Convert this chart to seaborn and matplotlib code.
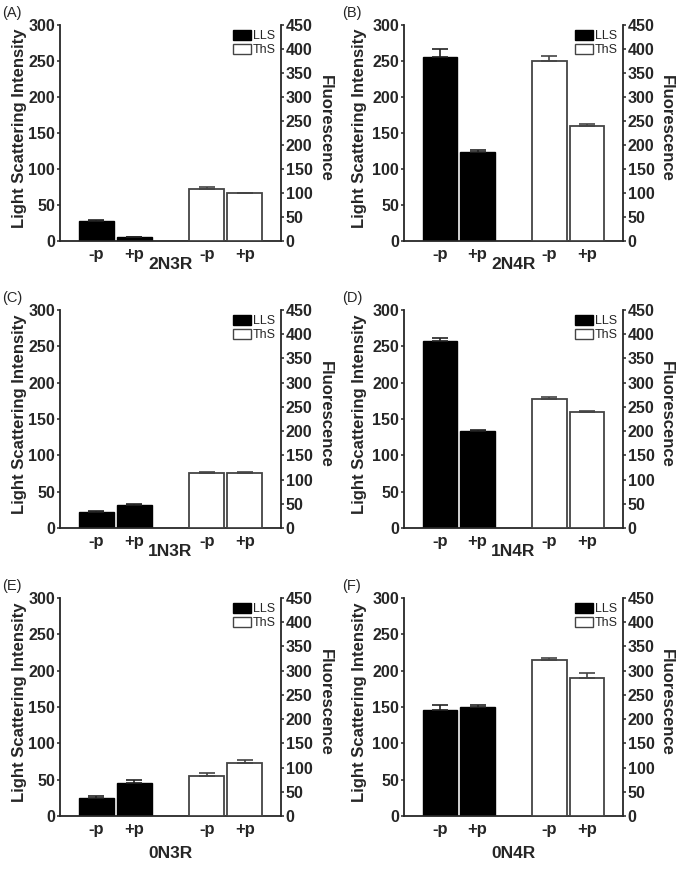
import matplotlib
matplotlib.use("Agg")
import matplotlib.pyplot as plt
from matplotlib.patches import Patch
import seaborn as sns

# panel data: LLS on left axis, ThS on right axis (mean, upper error)
panels = ["(A)", "(B)", "(C)", "(D)", "(E)", "(F)"]
isoforms = ["2N3R", "2N4R", "1N3R", "1N4R", "0N3R", "0N4R"]
conditions = ["-p", "+p"]

lls_mean = [[28, 5], [256, 124], [22, 32], [258, 134], [25, 46], [146, 150]]
lls_err = [[1.5, 0.5], [10, 2], [2, 0.5], [4, 1], [3, 3], [7, 3]]
ths_mean = [[108, 100], [375, 240], [113, 113], [266, 240], [83, 110], [321, 285]]
ths_err = [[4, 1], [10, 4], [3, 2], [5, 1], [5, 6], [6, 10]]

lls_pos = [0, 1]
ths_pos = [2.9, 3.9]

sns.set_style("ticks")
plt.rcParams["font.family"] = ["Liberation Sans", "DejaVu Sans"]
plt.rcParams["font.weight"] = "bold"
plt.rcParams["axes.labelweight"] = "bold"

fig = plt.figure(figsize=(6.85, 8.69), dpi=100)
W, H = 685, 869
cols = [(60, 221), (404, 219)]
rows = [(25, 241), (310, 528), (598, 816)]
xlab_y = [-0.11, -0.11, -0.11, -0.11, -0.17, -0.17]
tick_kw = dict(width=1.1, length=2.5, labelsize=11.5, pad=1)

for i in range(6):
    r, c = divmod(i, 2)
    x0, w = cols[c]
    top, bot = rows[r]
    ax = fig.add_axes([x0 / W, (H - bot) / H, w / W, (bot - top) / H])
    ax2 = ax.twinx()

    sns.barplot(x=lls_pos, y=lls_mean[i], native_scale=True, width=0.92,
                color="black", saturation=1, edgecolor="black", linewidth=1,
                errorbar=None, ax=ax)
    sns.barplot(x=ths_pos, y=ths_mean[i], native_scale=True, width=0.92,
                color="white", saturation=1, edgecolor="#444444", linewidth=1.3,
                errorbar=None, ax=ax2)
    ax.errorbar(lls_pos, lls_mean[i], yerr=[[0, 0], lls_err[i]], fmt="none",
                ecolor="#222222", elinewidth=1.2, capsize=6, capthick=1.2)
    ax2.errorbar(ths_pos, ths_mean[i], yerr=[[0, 0], ths_err[i]], fmt="none",
                 ecolor="#444444", elinewidth=1.2, capsize=6, capthick=1.2)

    ax.set_ylim(0, 300)
    ax.set_yticks(range(0, 301, 50))
    ax2.set_ylim(0, 450)
    ax2.set_yticks(range(0, 451, 50))
    ax.set_xlim(-0.95, 4.85)
    ax.set_xticks(lls_pos + ths_pos)
    ax.set_xticklabels(conditions * 2)
    ax.tick_params(axis="x", length=0, labelsize=12, pad=4)
    ax.tick_params(axis="y", **tick_kw)
    ax2.tick_params(axis="y", **tick_kw)

    ax.set_xlabel(isoforms[i], fontsize=12.5)
    ax.xaxis.set_label_coords(0.5, xlab_y[i], transform=ax.transAxes)
    ax.xaxis.label.set_va("center")
    ax2.set_xlabel("")
    ax.set_ylabel("Light Scattering Intensity", fontsize=12)
    ax.yaxis.set_label_coords(-0.185 if c == 0 else -0.205, 0.52)
    ax.yaxis.label.set_va("center")
    ax2.set_ylabel("Fluorescence", fontsize=12, rotation=270)
    ax2.yaxis.set_label_coords(1.2, 0.52)
    ax2.yaxis.label.set_va("center")

    for s in ["top", "right"]:
        ax.spines[s].set_visible(False)
    for s in ["top", "left", "bottom"]:
        ax2.spines[s].set_visible(False)
    for s in ["left", "bottom"]:
        ax.spines[s].set_linewidth(1.3)
    ax2.spines["right"].set_linewidth(1.3)

    handles = [Patch(facecolor="black", edgecolor="black"),
               Patch(facecolor="white", edgecolor="#444444", linewidth=1)]
    ax2.legend(handles, ["LLS", "ThS"], loc="upper right", frameon=False,
               prop={"size": 9, "weight": "normal"}, handlelength=1.45,
               handleheight=0.85, handletextpad=0.15, labelspacing=0.1,
               borderaxespad=0.2, borderpad=0.2)

    fig.text((2 if c == 0 else 342) / W, 1 - (top - 12) / H, panels[i],
             fontsize=10.5, fontweight="normal", ha="left", va="center")

fig.savefig("out.png", dpi=100)
